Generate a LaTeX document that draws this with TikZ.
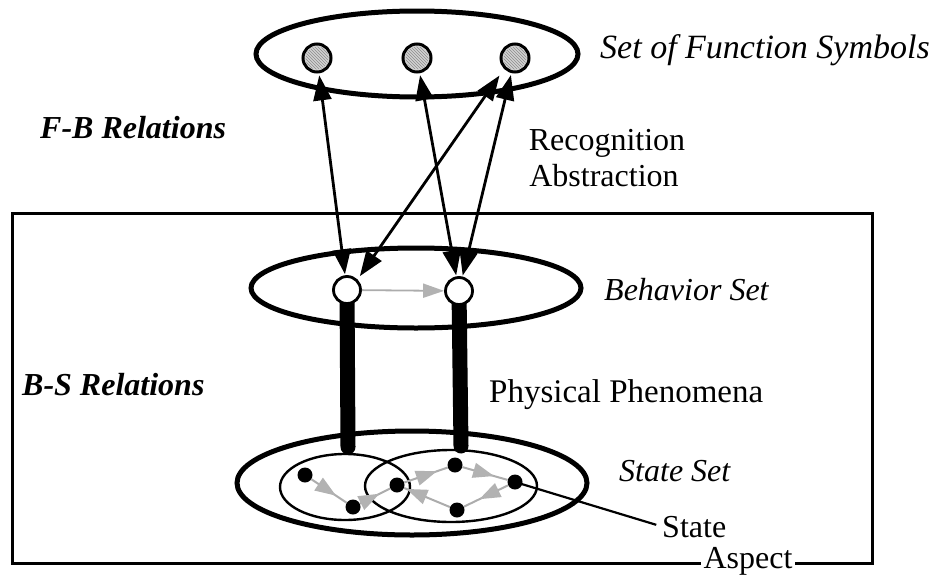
\documentclass[tikz,border=0pt]{standalone}
\usepackage{fontspec}
\setmainfont{Liberation Serif}
\usetikzlibrary{shapes.geometric,arrows.meta,decorations.markings,patterns}
\newcommand\lblfont{\fontsize{32}{36}\selectfont}
\begin{document}
\begin{tikzpicture}[x=1pt,y=-1pt,
 bigell/.style={draw, ellipse, line width=5pt, inner sep=0pt},
 smallell/.style={draw, ellipse, line width=2.4pt, inner sep=0pt},
 fsym/.style={circle, draw, line width=3pt, fill=gray!35, minimum size=28pt, inner sep=0pt},
 bnode/.style={circle, draw, line width=2.8pt, fill=white, minimum size=27pt, inner sep=0pt},
 sdot/.style={circle, fill=black, minimum size=15pt, inner sep=0pt},
 dbl/.style={line width=2.8pt, {Triangle[length=25pt,width=18pt]}-{Triangle[length=25pt,width=18pt]}},
 bar/.style={line width=15pt, line cap=round},
 garrow/.style={draw=gray!65, line width=2pt, postaction=decorate,
   decoration={markings, mark=at position #1 with {\arrow[gray!60]{Triangle[length=21pt,width=15pt]}}}},
 garrow/.default=0.6,
 lbl/.style={font=\lblfont, inner sep=0pt},
 ilbl/.style={font=\lblfont\itshape, inner sep=0pt},
 bilbl/.style={font=\lblfont\bfseries\itshape, inner sep=0pt},
]
\path[use as bounding box] (0,0) rectangle (942,581);

% frame (Aspect)
\node[draw, line width=3pt, minimum width=860pt, minimum height=350pt, inner sep=0pt, anchor=north west] (asp) at (11,212) {};
\node[lbl, fill=white, inner xsep=3pt, inner ysep=1pt] (asplbl) at (748,561) {Aspect};

% ellipses
\node[bigell, minimum width=322pt, minimum height=86pt] (FS) at (417,54) {};
\node[bigell, minimum width=330pt, minimum height=80pt] (BS) at (416,288) {};
\node[bigell, minimum width=350pt, minimum height=104pt] (SS) at (412,483) {};
\node[smallell, minimum width=130pt, minimum height=66pt] (A1) at (345,487) {};
\node[smallell, minimum width=172pt, minimum height=72pt] (A2) at (451,486) {};

% coordinates for bar ends
\coordinate (s1) at (348,447);
\coordinate (s2) at (461,446);

\path (347,290) coordinate (b1c) (459,291) coordinate (b2c);
\draw[bar] (b1c) -- (s1);
\draw[bar] (b2c) -- (s2);

% function symbols
\node[fsym] (f1) at (317,58) {};
\node[fsym] (f2) at (417,58) {};
\node[fsym] (f3) at (515,58) {};
\foreach \f in {f1,f2,f3}{\path[pattern=north west lines, pattern color=gray!90] (\f) circle (11.5pt);}

% behaviour nodes
\node[bnode] (b1) at (b1c) {};
\node[bnode] (b2) at (b2c) {};

% F-B relation arrows
\draw[dbl, shorten <=2pt, shorten >=1pt] (f1) -- (b1);
\draw[dbl, shorten <=2pt, shorten >=1pt] (f2) -- (b2);
\draw[dbl, shorten <=2pt, shorten >=1pt] (f3) -- (b2);
\draw[dbl, shorten <=8pt, shorten >=4pt] (f3.south west) -- (b1.north east);

% behaviour transition
\draw[draw=gray!65, line width=1.8pt, -{Triangle[length=21pt,width=14pt,gray!60]}] (b1) -- (b2);

% states
\node[sdot] (d1) at (305,475) {};
\node[sdot] (d2) at (353,507) {};
\node[sdot] (d3) at (397,485) {};
\node[sdot] (d4) at (455,465) {};
\node[sdot] (d5) at (515,482) {};
\node[sdot] (d6) at (457,510) {};

\draw[garrow=0.7] (d1) -- (d2);
\draw[garrow=0.65] (d2) -- (d3);
\draw[garrow=0.75] (d3) -- (d4);
\draw[garrow=0.7] (d4) -- (d5);
\draw[garrow=0.65] (d5) -- (d6);
\draw[garrow=0.95] (d6) -- (d3);

% labels
\node[ilbl, font=\fontsize{34}{38}\selectfont\itshape, anchor=base west] (t1) at (600,58) {Set of Function Symbols};
\node[bilbl, anchor=base west] (t2) at (40,138) {F-B Relations};
\node[lbl, anchor=base] (t3) at (607,150) {Recognition};
\node[lbl, anchor=base] (t4) at (604,186) {Abstraction};
\node[ilbl, anchor=base west] (t5) at (604,300) {Behavior Set};
\node[bilbl, anchor=base west] (t6) at (22,395) {B-S Relations};
\node[lbl, font=\fontsize{33}{37}\selectfont, anchor=base west] (t7) at (489,402) {Physical Phenomena};
\node[ilbl, anchor=base west] (t8) at (619,481) {State Set};
\node[lbl, anchor=base west] (stlbl) at (662,537) {State};
\draw[line width=2.2pt, shorten >=6pt] (d5.center) -- (stlbl.west);
\end{tikzpicture}
\end{document}
